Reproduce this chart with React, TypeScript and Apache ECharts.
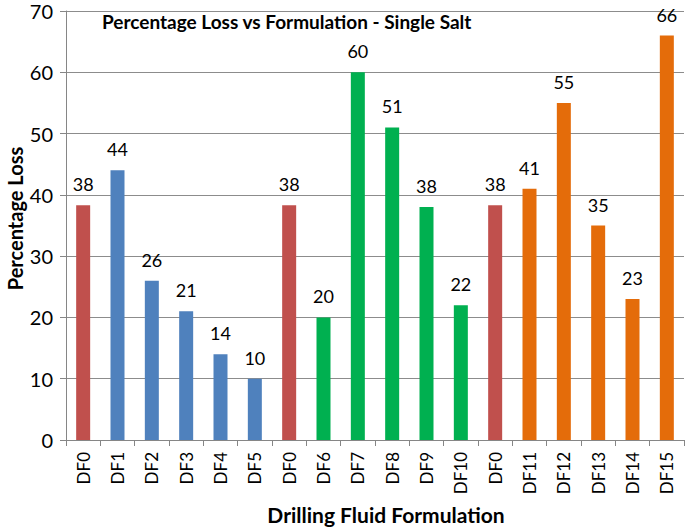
import React, { useEffect, useRef } from "react";
import * as echarts from "echarts";

const categories = ["DF0", "DF1", "DF2", "DF3", "DF4", "DF5", "DF0", "DF6", "DF7", "DF8", "DF9", "DF10", "DF0", "DF11", "DF12", "DF13", "DF14", "DF15"];
const values = [38.3, 44, 26, 21, 14, 10, 38.3, 20, 60, 51, 38, 22, 38.3, 41, 55, 35, 23, 66];
const groups = ["base", "blue", "blue", "blue", "blue", "blue", "base", "green", "green", "green", "green", "green", "base", "orange", "orange", "orange", "orange", "orange"];
const groupColors: Record<string, string> = {
  base: "#C0504D",
  blue: "#4F81BD",
  green: "#00B050",
  orange: "#E46C0A",
};
const yTicks = [0, 10, 20, 30, 40, 50, 60, 70];

export default function App() {
  const ref = useRef<HTMLDivElement>(null);
  useEffect(() => {
    if (!ref.current) return;
    const chart = echarts.init(ref.current, null, { renderer: "svg" });
    const font = "Lato, 'Open Sans', sans-serif";
    chart.setOption({
      animation: false,
      backgroundColor: "#ffffff",
      title: {
        text: "Percentage Loss vs Formulation - Single Salt",
        left: 97,
        top: 7,
        textStyle: { fontFamily: font, fontWeight: "bold", fontSize: 19, color: "#000" },
      },
      grid: { left: 66, right: 1, top: 11, bottom: 90, containLabel: false, outerBoundsMode: "none" },
      xAxis: {
        type: "category",
        data: categories,
        name: "Drilling Fluid Formulation",
        nameLocation: "middle",
        nameGap: 64,
        nameMoveOverlap: false,
        nameTextStyle: { fontFamily: font, fontWeight: "bold", fontSize: 21, color: "#000", padding: [0, 0, 0, 22] },
        axisLine: { lineStyle: { color: "#868686", width: 1 } },
        axisTick: { show: true, length: 6, lineStyle: { color: "#868686" } },
        axisLabel: { rotate: 90, interval: 0, fontFamily: font, fontSize: 17, color: "#000", margin: 12 },
      },
      yAxis: {
        type: "value",
        min: 0,
        max: yTicks[yTicks.length - 1],
        interval: 10,
        name: "Percentage Loss",
        nameLocation: "middle",
        nameGap: 41,
        nameMoveOverlap: false,
        nameTextStyle: { fontFamily: font, fontWeight: "bold", fontSize: 20, lineHeight: 20, color: "#000", padding: [0, 0, 0, 14] },
        axisLine: { show: true, lineStyle: { color: "#868686", width: 1 } },
        axisTick: { show: true, length: 6, lineStyle: { color: "#868686" } },
        axisLabel: { fontFamily: font, fontSize: 20, color: "#000", margin: 13 },
        splitLine: { show: true, lineStyle: { color: "#8C8C8C", width: 1 } },
      },
      series: [
        {
          type: "bar",
          barWidth: 14,
          data: values.map((v, i) => ({ value: v, itemStyle: { color: groupColors[groups[i]] } })),
          label: {
            show: true,
            position: "top",
            distance: 12,
            fontFamily: font,
            fontSize: 18,
            color: "#000",
            formatter: (p: any) => String(Math.round(p.value)),
          },
        },
      ],
    });
    return () => chart.dispose();
  }, []);
  return <div ref={ref} style={{ width: 685, height: 530, position: "absolute", left: 0, top: 0 }} />;
}
